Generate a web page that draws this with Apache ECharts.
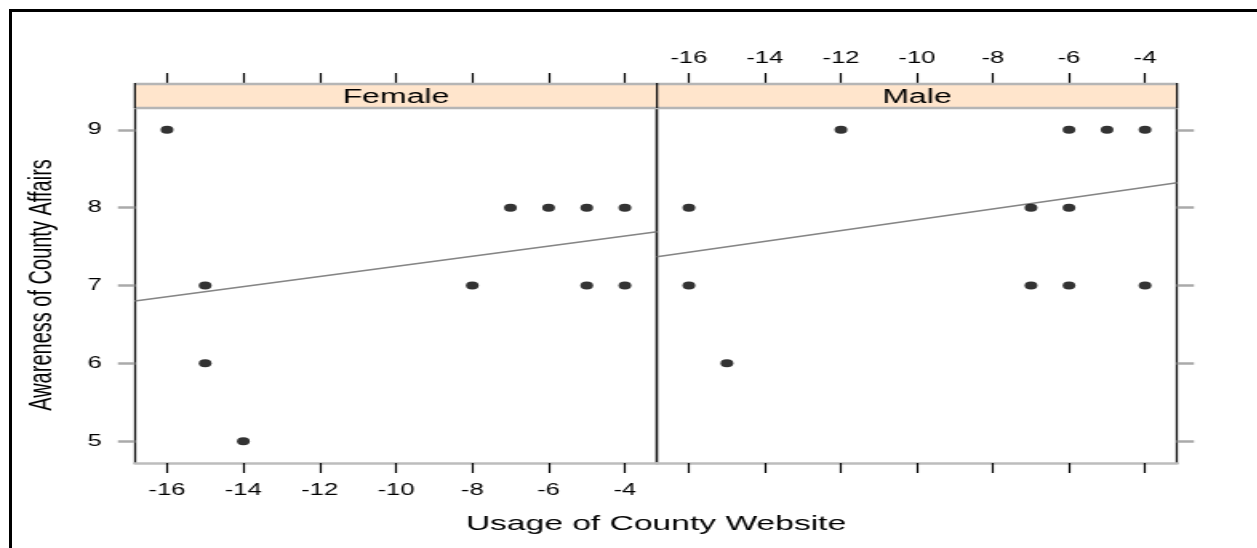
<!DOCTYPE html>
<html>
<head>
<meta charset="utf-8">
<script src="https://cdn.jsdelivr.net/npm/echarts@6/dist/echarts.min.js"></script>
<style>
  html, body { margin: 0; padding: 0; background: #fff; overflow: hidden; }
  #frame { position: absolute; left: 9px; top: 9px; width: 1400px; height: 700px;
           border-left: 3px solid #000; border-top: 3px solid #000; pointer-events: none; }
  #wrap { position: absolute; left: 0; top: 0; transform-origin: 0 0; }
</style>
</head>
<body>
<div id="wrap"><div id="chart"></div></div>
<div id="frame"></div>
<script>
// ---- data ----------------------------------------------------------------
const panels = ['Female', 'Male'];
const xTicks = [-16, -14, -12, -10, -8, -6, -4];
const yTicks = [5, 6, 7, 8, 9];
const xLimits = [-16.84, -3.16];
const yLimits = [4.72, 9.28];

const femaleUsage     = [-16, -15, -15, -14, -8, -7, -6, -5, -4, -5, -4];
const femaleAwareness = [  9,   7,   6,   5,  7,  8,  8,  8,  8,  7,  7];
const maleUsage       = [-16, -16, -15, -12, -7, -7, -6, -6, -6, -5, -4, -4];
const maleAwareness   = [  8,   7,   6,   9,  8,  7,  9,  8,  7,  9,  9,  7];

// fitted awareness at the two ends of the usage range
const femaleFit = [6.80, 7.69];
const maleFit   = [7.37, 8.32];

// ---- layout (page pixels; the plot is drawn narrow and stretched sideways) --
const W = 1257, H = 548, S = 1.6;
const px = v => v / S;
const wrap = document.getElementById('wrap');
const el = document.getElementById('chart');
el.style.width = (W / S) + 'px';
el.style.height = H + 'px';
wrap.style.transform = 'scaleX(' + S + ')';

const panelX = [[135, 657], [657, 1177]];
const panelTop = 108, panelBottom = 463, stripTop = 84;
const font = '"Liberation Sans", Arial, Helvetica, sans-serif';
const ink = '#000000';
const tickGray = '#aaaaaa';

const pairs = (xs, ys) => xs.map((x, i) => [x, ys[i]]);
const fitLine = f => [[xLimits[0], f[0]], [xLimits[1], f[1]]];

const grids = panelX.map(([a, b]) => ({
  left: px(a), width: px(b - a), top: panelTop, height: panelBottom - panelTop
}));

function xAxisFor(grid, pos, labels) {
  const top = pos === 'top';
  return {
    type: 'value', gridIndex: grid, position: pos, min: xLimits[0], max: xLimits[1],
    offset: top ? panelTop - stripTop : 0,
    axisLine: { show: !top, lineStyle: { color: '#bdbdbd', width: 2.5 } },
    axisTick: { show: true, customValues: xTicks, length: top ? 11 : 10,
                lineStyle: { color: '#000', width: 1.2 } },
    axisLabel: { show: labels, customValues: xTicks, margin: top ? 17 : 20,
                 fontFamily: font, fontSize: 16, color: ink },
    splitLine: { show: false }
  };
}

function yAxisFor(grid, pos, ticks, labels) {
  return {
    type: 'value', gridIndex: grid, position: pos, min: yLimits[0], max: yLimits[1],
    axisLine: { show: true, lineStyle: { color: '#111', width: 1.3 } },
    axisTick: { show: ticks, customValues: yTicks, length: px(17),
                lineStyle: { color: tickGray, width: 2.5 } },
    axisLabel: { show: labels, customValues: yTicks, margin: px(33),
                 fontFamily: font, fontSize: 16, color: ink },
    splitLine: { show: false }
  };
}

// strip headers above each panel
const strips = [];
panelX.forEach(([a, b], i) => {
  strips.push({ type: 'rect', shape: { x: px(a), y: stripTop, width: px(b - a), height: panelTop - stripTop },
                style: { fill: '#FFE5CC' }, z: 1 });
  strips.push({ type: 'text', x: px((a + b) / 2), y: (stripTop + panelTop) / 2 + 1,
                style: { text: panels[i], fontFamily: font, fontSize: 20, fill: ink,
                         align: 'center', verticalAlign: 'middle' }, z: 3 });
});
[stripTop, panelTop].forEach(y => strips.push({
  type: 'line', shape: { x1: px(panelX[0][0]), y1: y, x2: px(panelX[1][1]), y2: y },
  style: { stroke: '#b5b5b5', lineWidth: 2.5 }, z: 2 }));
[panelX[0][0], panelX[0][1], panelX[1][1]].forEach(x => strips.push({
  type: 'line', shape: { x1: px(x), y1: stripTop - 1, x2: px(x), y2: panelTop },
  style: { stroke: '#111', lineWidth: 1.3 }, z: 2 }));

const titles = [
  { type: 'text', x: px(656), y: 524,
    style: { text: 'Usage of County Website', fontFamily: font, fontSize: 21, fill: ink,
             align: 'center', verticalAlign: 'middle' } },
  { type: 'text', x: px(42), y: 285, rotation: Math.PI / 2,
    style: { text: 'Awareness of County Affairs', fontFamily: font, fontSize: 20, fill: ink,
             align: 'center', verticalAlign: 'middle' } }
];

const pointStyle = { color: '#000' };
const fitStyle = { color: '#858585', width: 1.6 };

const chart = echarts.init(el, null, { renderer: 'canvas' });
chart.setOption({
  animation: false,
  backgroundColor: 'transparent',
  grid: grids,
  xAxis: [
    xAxisFor(0, 'bottom', true),
    xAxisFor(0, 'top', false),
    xAxisFor(1, 'bottom', false),
    xAxisFor(1, 'top', true)
  ],
  yAxis: [
    yAxisFor(0, 'left', true, true),
    yAxisFor(0, 'right', false, false),
    yAxisFor(1, 'left', false, false),
    yAxisFor(1, 'right', true, false)
  ],
  graphic: strips.concat(titles),
  series: [
    { name: panels[0] + ' fit', type: 'line', xAxisIndex: 0, yAxisIndex: 0,
      data: fitLine(femaleFit), symbol: 'none', lineStyle: fitStyle, z: 2 },
    { name: panels[0], type: 'scatter', xAxisIndex: 0, yAxisIndex: 0,
      data: pairs(femaleUsage, femaleAwareness), symbol: 'circle', symbolSize: 8,
      itemStyle: pointStyle, z: 3 },
    { name: panels[1] + ' fit', type: 'line', xAxisIndex: 2, yAxisIndex: 2,
      data: fitLine(maleFit), symbol: 'none', lineStyle: fitStyle, z: 2 },
    { name: panels[1], type: 'scatter', xAxisIndex: 2, yAxisIndex: 2,
      data: pairs(maleUsage, maleAwareness), symbol: 'circle', symbolSize: 8,
      itemStyle: pointStyle, z: 3 }
  ]
});
</script>
</body>
</html>
